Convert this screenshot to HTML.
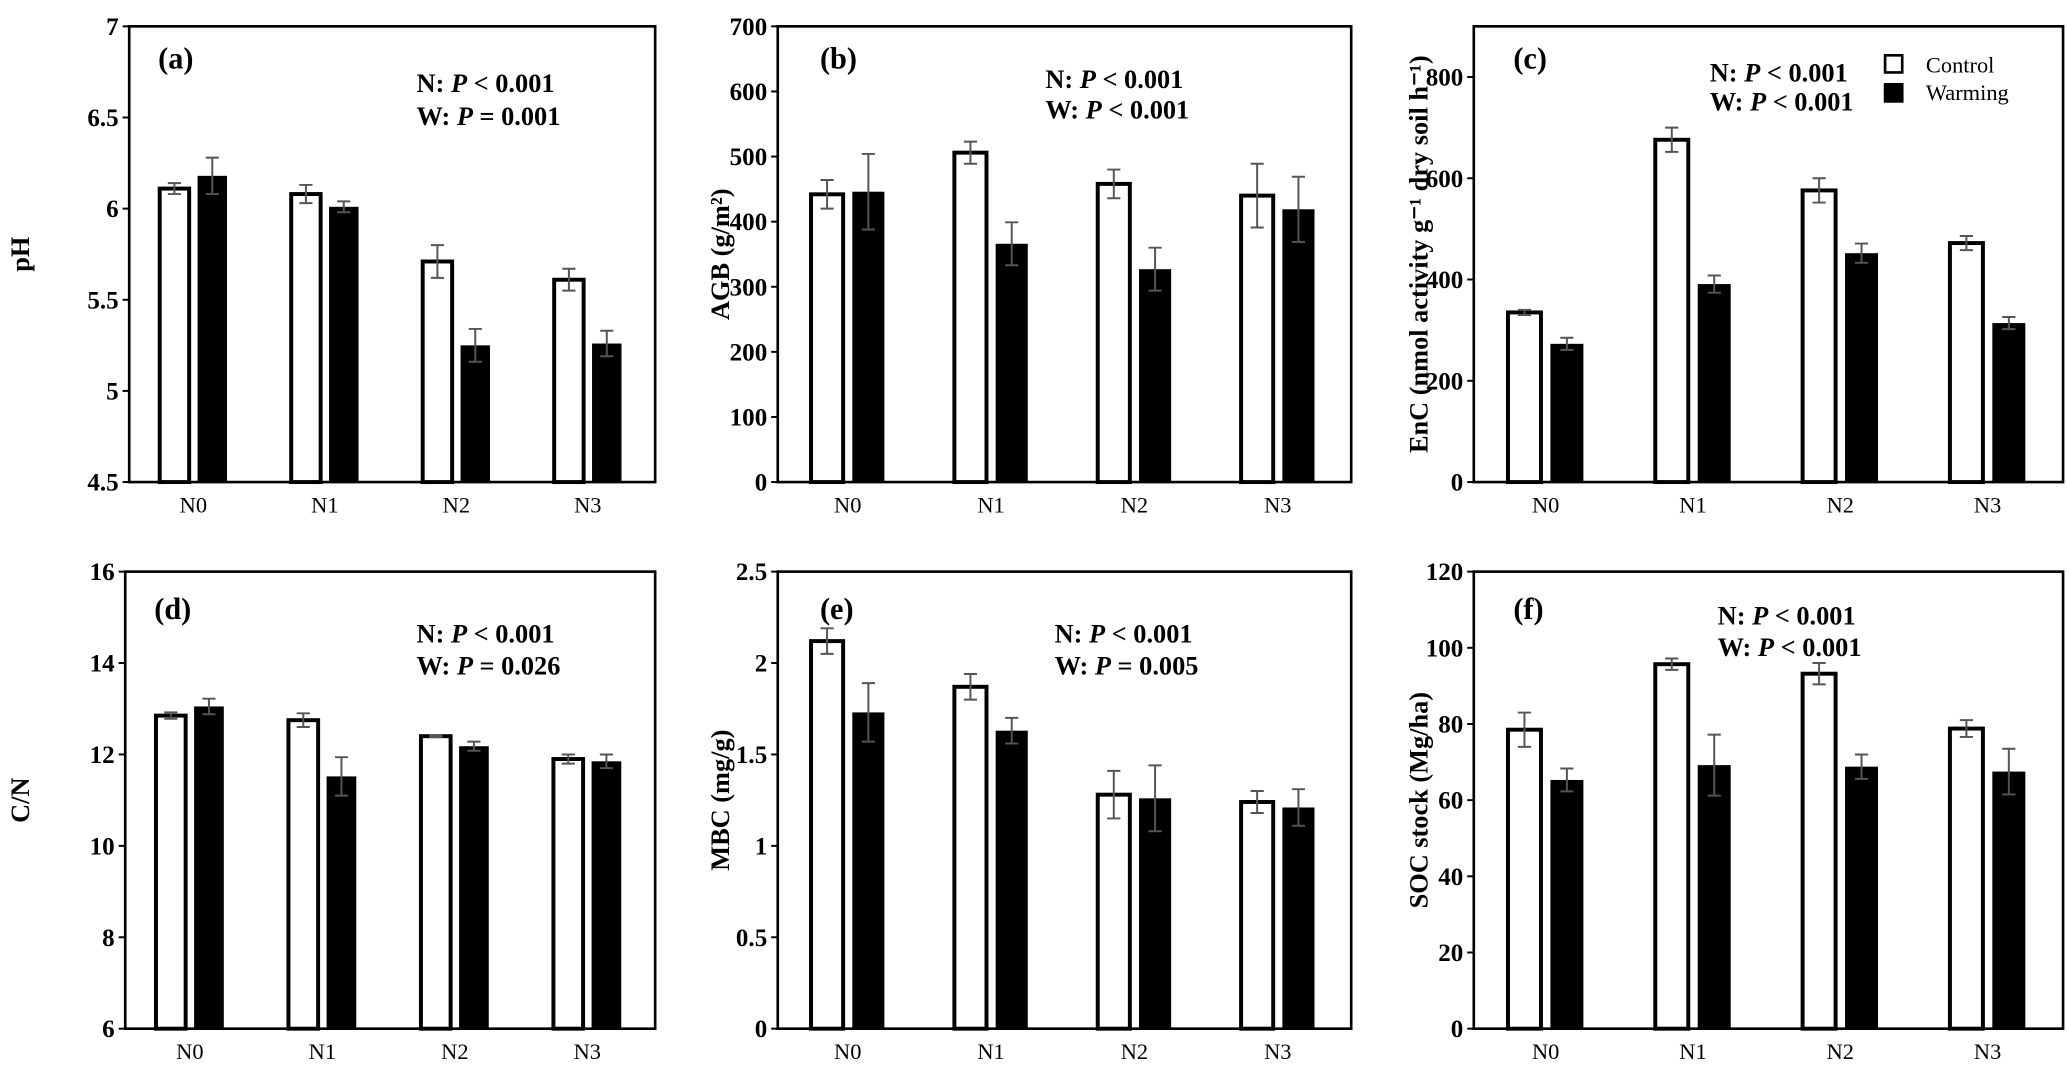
<!DOCTYPE html>
<html><head><meta charset="utf-8"><style>
html,body{margin:0;padding:0;background:#fff;}
svg{display:block;}
text{font-family:"Liberation Serif","Times New Roman",serif;fill:#000;}
</style></head><body>
<svg id="fig" width="2067" height="1084" viewBox="0 0 1568 823" preserveAspectRatio="none" xmlns="http://www.w3.org/2000/svg"></svg>
<script>
const categories = ["N0","N1","N2","N3"];
const phControl = [6.11,6.08,5.71,5.61];
const phControlErr = [0.03,0.05,0.09,0.06];
const phWarming = [6.18,6.01,5.25,5.26];
const phWarmingErr = [0.10,0.03,0.09,0.07];
const phTicks = [4.5,5,5.5,6,6.5,7];
const agbControl = [442,506,458,440];
const agbControlErr = [22,17,22,49];
const agbWarming = [446,366,327,419];
const agbWarmingErr = [58,33,33,50];
const agbTicks = [0,100,200,300,400,500,600,700];
const encControl = [335,676,576,472];
const encControlErr = [5,24,24,14];
const encWarming = [273,391,452,314];
const encWarmingErr = [12,17,19,12];
const encTicks = [0,200,400,600,800];
const cnControl = [12.85,12.75,12.4,11.9];
const cnControlErr = [0.07,0.15,0.02,0.1];
const cnWarming = [13.05,11.52,12.18,11.85];
const cnWarmingErr = [0.17,0.42,0.1,0.15];
const cnTicks = [6,8,10,12,14,16];
const mbcControl = [2.12,1.87,1.28,1.24];
const mbcControlErr = [0.07,0.07,0.13,0.06];
const mbcWarming = [1.73,1.63,1.26,1.21];
const mbcWarmingErr = [0.16,0.07,0.18,0.1];
const mbcTicks = [0,0.5,1,1.5,2,2.5];
const socControl = [78.5,95.7,93.2,78.8];
const socControlErr = [4.5,1.5,2.8,2.2];
const socWarming = [65.3,69.2,68.8,67.5];
const socWarmingErr = [3,8,3.2,6];
const socTicks = [0,20,40,60,80,100,120];

const NS="http://www.w3.org/2000/svg";
const svg=document.getElementById('fig');
function mk(tag,attrs,parent){const e=document.createElementNS(NS,tag);for(const k in attrs)e.setAttribute(k,attrs[k]);(parent||svg).appendChild(e);return e;}

const panels=[
 {id:'a',x0:98,x1:497,y0:20,y1:366,min:4.5,max:7,ticks:phTicks,c:phControl,ce:phControlErr,w:phWarming,we:phWarmingErr,title:'pH',tx:22,lab:[120,52],ann:[316,70,95],a1:'< 0.001',a2:'= 0.001'},
 {id:'b',x0:590,x1:1025,y0:20,y1:366,min:0,max:700,ticks:agbTicks,c:agbControl,ce:agbControlErr,w:agbWarming,we:agbWarmingErr,title:'AGB (g/m²)',tx:553,lab:[622,52],ann:[793,67,90],a1:'< 0.001',a2:'< 0.001'},
 {id:'c',x0:1118,x1:1565,y0:20,y1:366,min:0,max:900,ticks:encTicks,c:encControl,ce:encControlErr,w:encWarming,we:encWarmingErr,title:'EnC (nmol activity g⁻¹ dry soil h⁻¹)',tx:1083,lab:[1148,52],ann:[1297,62,84],a1:'< 0.001',a2:'< 0.001',legend:true},
 {id:'d',x0:95,x1:497,y0:434,y1:781,min:6,max:16,ticks:cnTicks,c:cnControl,ce:cnControlErr,w:cnWarming,we:cnWarmingErr,title:'C/N',tx:22,lab:[117,470],ann:[316,488,512],a1:'< 0.001',a2:'= 0.026'},
 {id:'e',x0:590,x1:1025,y0:434,y1:781,min:0,max:2.5,ticks:mbcTicks,c:mbcControl,ce:mbcControlErr,w:mbcWarming,we:mbcWarmingErr,title:'MBC (mg/g)',tx:553,lab:[622,470],ann:[800,488,512],a1:'< 0.001',a2:'= 0.005'},
 {id:'f',x0:1118,x1:1565,y0:434,y1:781,min:0,max:120,ticks:socTicks,c:socControl,ce:socControlErr,w:socWarming,we:socWarmingErr,title:'SOC stock (Mg/ha)',tx:1083,lab:[1148,470],ann:[1303,474,498],a1:'< 0.001',a2:'< 0.001'}
];

panels.forEach(p=>{
 const g=mk('g',{});
 
 
 const W=p.x1-p.x0;
 const ys=v=>p.y1-(v-p.min)/(p.max-p.min)*(p.y1-p.y0);
 const xc=i=>p.x0+W*(i+0.5)/4-W*0.003;
 p.ticks.forEach(t=>{
  const y=ys(t);
  const tl=mk('line',{x1:p.x0-5,x2:p.x0,y1:y,y2:y,stroke:'#000','stroke-width':1.5},g);
  
  
  const tt=mk('text',{x:p.x0-8,y:y+6.5,'text-anchor':'end','font-size':19,'font-weight':'bold'},g);
  tt.textContent=String(t);
  
  
 });
 const bw=W*0.056, off=W*0.008;
 categories.forEach((c,i)=>{
  const cx=xc(i);
  const yc=ys(p.c[i]);
  const r1=mk('rect',{x:cx-off-bw,y:yc,width:bw,height:p.y1-yc,fill:'#fff',stroke:'#000','stroke-width':3},g);
  
  
  const yw=ys(p.w[i]);
  const r2=mk('rect',{x:cx+off,y:yw,width:bw,height:p.y1-yw,fill:'#000'},g);
  
  
  [[cx-off-bw/2,p.c[i],p.ce[i]],[cx+off+bw/2,p.w[i],p.we[i]]].forEach(([ex,v,e])=>{
   const ya=ys(v+e), yb=ys(v-e);
   const eg=mk('path',{d:`M${ex},${ya}V${yb}M${ex-5},${ya}H${ex+5}M${ex-5},${yb}H${ex+5}`,stroke:'#555','stroke-width':1.5,fill:'none'},g);
   
   
  });
  const xl=mk('text',{x:cx,y:p.y1+23,'text-anchor':'middle','font-size':17},g);
  xl.textContent=c;
  
  
 });
 const fr=mk('rect',{x:p.x0,y:p.y0,width:W,height:p.y1-p.y0,fill:'none',stroke:'#000','stroke-width':2},g);
 
 
 const cy=(p.y0+p.y1)/2;
 const ti=mk('text',{x:p.tx,y:cy,'text-anchor':'middle','font-size':20,'font-weight':'bold',transform:`rotate(-90 ${p.tx} ${cy})`},g);
 ti.textContent=p.title;
 
 
 const pl=mk('text',{x:p.lab[0],y:p.lab[1],'font-size':23,'font-weight':'bold'},g);
 pl.textContent='('+p.id+')';
 
 
 const t1=mk('text',{x:p.ann[0],y:p.ann[1],'font-size':20,'font-weight':'bold'},g);
 t1.innerHTML='N: <tspan font-style="italic">P</tspan> '+p.a1.replace('<','&lt;');
 
 
 const t2=mk('text',{x:p.ann[0],y:p.ann[2],'font-size':20,'font-weight':'bold'},g);
 t2.innerHTML='W: <tspan font-style="italic">P</tspan> '+p.a2.replace('<','&lt;');
 
 
 if(p.legend){
  const lg=mk('g',{},g);
  
  
  const s1=mk('rect',{x:1430,y:42,width:13,height:13,fill:'#fff',stroke:'#000','stroke-width':2},lg);
  
  
  const l1=mk('text',{x:1461,y:55,'font-size':17},lg);
  l1.textContent='Control';
  
  
  const s2=mk('rect',{x:1429,y:63,width:15,height:15,fill:'#000'},lg);
  
  
  const l2=mk('text',{x:1461,y:76,'font-size':17},lg);
  l2.textContent='Warming';
  
  
 }
});
</script>
</body></html>
